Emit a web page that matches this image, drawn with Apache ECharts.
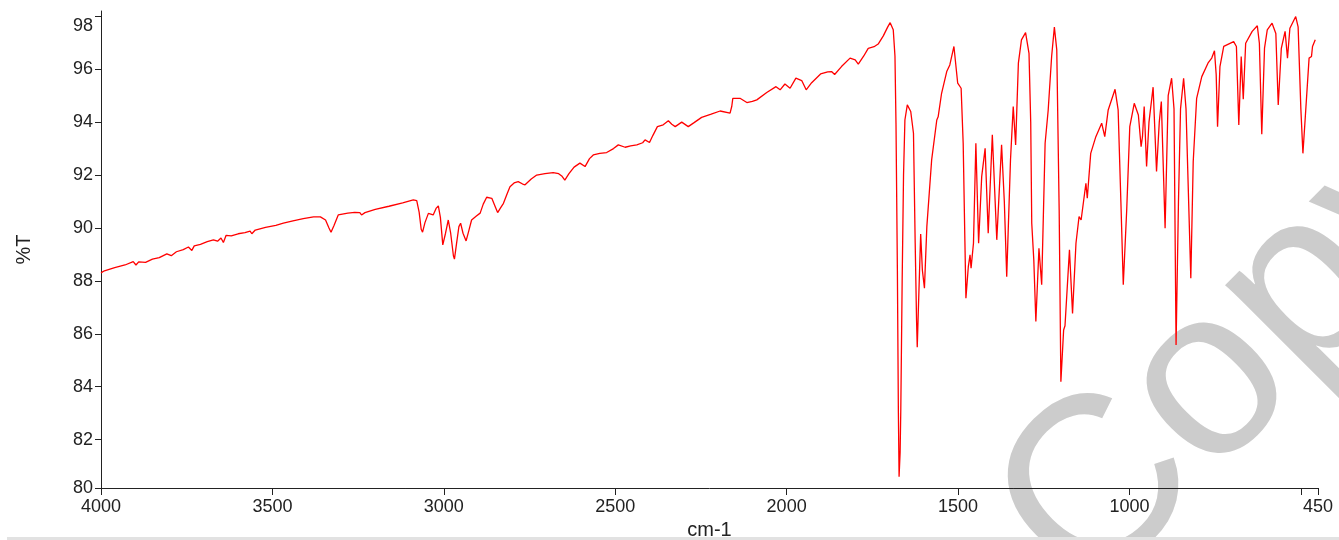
<!DOCTYPE html>
<html>
<head>
<meta charset="utf-8">
<script src="https://cdn.jsdelivr.net/npm/echarts@6/dist/echarts.min.js"></script>
<style>
html,body{margin:0;padding:0;background:#fff;}
#chart{width:1339px;height:540px;}
</style>
</head>
<body>
<div id="chart"></div>
<script>
// Wavenumbers (cm-1) and transmittance (%T)
const wavenumbers = [
4000,3990,3960,3930,3906,3898,3890,3870,3850,3830,3808,3795,3780,3760,3745,3735,3728,3710,3690,3672,
3660,3650,3643,3635,3620,3600,3580,3565,3560,3550,3520,3490,3468,3440,3410,3380,3360,3345,3335,3329,
3320,3308,3280,3260,3245,3240,3230,3200,3160,3120,3089,3079,3072,3066,3062,3055,3045,3040,3031,3022,
3016,3010,3003,2995,2987,2980,2972,2969,2963,2956,2951,2944,2935,2927,2919,2905,2894,2885,2875,2860,
2850,2843,2835,2826,2815,2807,2795,2783,2770,2763,2745,2729,2705,2681,2665,2655,2647,2635,2620,2603,
2588,2575,2564,2545,2525,2505,2491,2471,2455,2437,2420,2413,2400,2390,2377,2360,2345,2335,2325,2306,
2287,2270,2248,2220,2194,2165,2160,2157,2136,2116,2100,2087,2058,2031,2019,2005,1990,1973,1956,1943,
1927,1901,1880,1869,1860,1840,1815,1800,1791,1775,1762,1745,1733,1718,1705,1698,1689,1684,1681,1677,
1674,1672,1669,1667,1663,1659,1655,1648,1638,1630,1625,1621,1619,1616,1609,1604,1598,1591,1577,1562,
1558,1548,1533,1524,1512,1501,1491,1485,1480,1477,1470,1465,1462,1455,1448,1440,1431,1421,1412,1400,
1387,1373,1365,1358,1347,1339,1332,1324,1315,1303,1293,1288,1285,1279,1273,1264,1256,1246,1237,1227,
1219,1212,1205,1200,1192,1188,1175,1166,1156,1147,1141,1127,1123,1113,1098,1081,1072,1062,1042,1033,
1025,1018,1008,999,986,974,966,962,957,950,943,931,921,913,907,896,887,877,870,864,
857,851,842,835,821,814,804,789,770,760,752,747,743,736,725,696,688,681,674,668,
661,642,627,621,614,606,598,584,573,566,557,546,539,532,515,508,500,494,487,476,
469,466,458
];
const transmittance = [
88.30,88.38,88.50,88.60,88.73,88.60,88.72,88.70,88.82,88.88,89.02,88.95,89.10,89.18,89.28,89.15,89.32,89.38,89.48,89.55,
89.50,89.62,89.45,89.72,89.70,89.78,89.82,89.88,89.78,89.92,90.02,90.10,90.18,90.27,90.35,90.42,90.42,90.30,90.00,89.84,
90.10,90.49,90.56,90.59,90.58,90.49,90.58,90.70,90.82,90.95,91.06,91.03,90.60,89.95,89.84,90.20,90.55,90.62,90.49,90.75,
90.83,90.40,89.36,89.80,90.30,89.80,88.95,88.82,89.40,90.05,90.18,89.80,89.51,89.90,90.30,90.45,90.56,90.90,91.16,91.12,
90.80,90.58,90.75,90.93,91.30,91.56,91.70,91.75,91.66,91.63,91.85,92.00,92.05,92.09,92.05,91.95,91.81,92.05,92.30,92.45,
92.32,92.62,92.76,92.82,92.85,93.00,93.14,93.05,93.10,93.14,93.22,93.33,93.23,93.50,93.83,93.90,94.05,93.92,93.83,94.00,
93.83,93.98,94.18,94.30,94.42,94.34,94.60,94.90,94.90,94.74,94.78,94.84,95.12,95.34,95.22,95.44,95.28,95.66,95.57,95.22,
95.49,95.82,95.90,95.91,95.80,96.10,96.42,96.35,96.19,96.50,96.79,96.85,96.95,97.26,97.60,97.76,97.49,96.50,93.96,88.50,
83.00,80.60,81.50,83.12,88.00,92.00,94.08,94.65,94.40,93.58,89.42,86.50,85.49,86.80,89.77,88.40,87.72,90.05,92.57,94.08,
94.20,95.09,95.91,96.16,96.86,95.47,95.28,93.20,89.50,87.34,88.54,88.98,88.48,89.42,93.20,89.42,91.94,93.01,89.80,93.52,
89.55,93.14,91.00,88.16,92.57,94.59,93.14,96.23,97.11,97.38,96.60,94.00,90.18,88.79,86.46,89.23,87.85,93.20,94.46,96.48,
97.59,96.73,90.68,84.19,86.14,86.30,89.17,86.77,89.42,90.43,90.30,91.69,91.12,92.82,93.45,93.96,93.45,94.46,95.24,94.46,
91.00,87.85,90.68,93.83,94.71,94.27,93.07,93.45,94.59,92.32,94.00,95.32,92.13,94.00,94.78,89.99,95.00,95.66,94.50,85.58,
91.00,94.50,95.66,94.50,88.10,92.50,94.90,95.72,96.25,96.42,96.70,95.80,93.83,96.10,96.86,97.04,96.86,93.89,96.48,94.87,
96.98,97.43,97.64,96.98,93.54,96.80,97.49,97.74,97.35,94.65,96.79,97.43,96.42,97.55,97.99,97.60,94.50,92.82,94.20,96.42,
96.48,96.86,97.11
];
const xTickValues = [4000,3500,3000,2500,2000,1500,1000,500,450];
const xLabelValues = [4000,3500,3000,2500,2000,1500,1000,450];
const yMin = 80.17, yMax = 98.2;
const yTickValues = [80.17,82,84,86,88,90,92,94,96,98];

const points = wavenumbers.map((w, i) => [w, transmittance[i]]);

const chart = echarts.init(document.getElementById('chart'));
const textColor = '#222';
chart.setOption({
  animation: false,
  backgroundColor: '#ffffff',
  grid: {left: 101, right: 21, top: 11, bottom: 52, containLabel: false, outerBoundsMode: 'none'},
  xAxis: {
    type: 'value', inverse: true, min: 450, max: 4000,
    name: 'cm-1', nameLocation: 'middle', nameGap: 31,
    nameTextStyle: {fontSize: 20, color: textColor, fontFamily: 'Liberation Sans'},
    axisLine: {show: true, lineStyle: {color: '#222', width: 1}},
    axisTick: {show: true, length: 7, customValues: xTickValues, lineStyle: {color: '#222'}},
    axisLabel: {customValues: xLabelValues, fontSize: 18, color: textColor, margin: 10,
      fontFamily: 'Liberation Sans', formatter: v => String(Math.round(v))},
    splitLine: {show: false}
  },
  yAxis: {
    type: 'value', min: yMin, max: yMax,
    name: '%T', nameLocation: 'middle', nameGap: 67, nameRotate: 90,
    nameTextStyle: {fontSize: 20, color: textColor, fontFamily: 'Liberation Sans'},
    axisLine: {show: true, lineStyle: {color: '#222', width: 1}},
    axisTick: {show: true, length: 6, customValues: yTickValues, lineStyle: {color: '#222'}},
    axisLabel: {customValues: yTickValues, fontSize: 18, color: textColor, margin: 8,
      fontFamily: 'Liberation Sans',
      formatter: v => (Math.round(v) === 98 ? '{low|98}' : String(Math.round(v))),
      rich: {low: {fontSize: 18, color: textColor, fontFamily: 'Liberation Sans', padding: [20, 0, 0, 0]}}},
    splitLine: {show: false}
  },
  graphic: [
    {type: 'text', x: 1040, y: 556, rotation: Math.PI / 4, z: -1, silent: true,
      style: {text: 'Copy', fontSize: 240, fontFamily: 'Liberation Sans', fill: '#cccccc',
        align: 'left', verticalAlign: 'middle'}},
    {type: 'rect', shape: {x: 7, y: 537, width: 1332, height: 3}, z: -1, silent: true,
      style: {fill: '#e2e2e2'}}
  ],
  series: [{
    type: 'line', data: points, showSymbol: false, smooth: false,
    lineStyle: {color: '#ff0000', width: 1.3}, z: 3
  }]
});
</script>
</body>
</html>
